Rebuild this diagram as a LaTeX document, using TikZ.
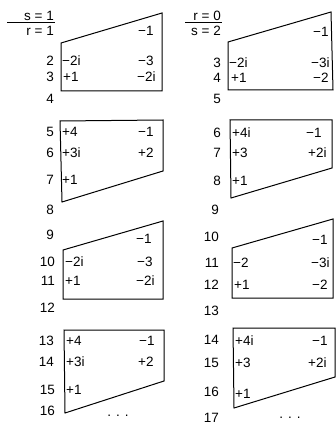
\documentclass[tikz,border=0pt]{standalone}
\usepackage{fontspec}
\setmainfont{Liberation Sans}
\usetikzlibrary{positioning}

\begin{document}
\begin{tikzpicture}[
    x=1pt, y=-1pt,
    font=\fontsize{13.5}{15}\selectfont,
    rowno/.style={anchor=east, inner sep=0pt},
    val/.style={anchor=west, inner sep=0pt},
    head/.style={anchor=east, inner sep=0pt},
    frame/.style={draw=black, line width=1pt, line join=miter},
    bar/.style={draw=black, line width=0.9pt}
  ]
  \useasboundingbox (0,0) rectangle (336,430);

  % Left column: s = 1 over r = 1
  \node[head] (sL) at (54,16) {s = 1};
  \node[head, below=5pt of sL.south east, anchor=north east] (rL) {r = 1};
  \coordinate (barLa) at (7,22);
  \coordinate (barLb) at (55,22);
  \draw[bar] (barLa) -- (barLb);

  % row numbers, left
  \node[rowno] (L2) at (54,61) {2};
  \node[rowno] (L3) at (54,77) {3};
  \node[rowno] (L4) at (54,99) {4};
  \node[rowno] (L5) at (54,132) {5};
  \node[rowno] (L6) at (54,153) {6};
  \node[rowno] (L7) at (54,180) {7};
  \node[rowno] (L8) at (54,210) {8};
  \node[rowno] (L9) at (54,235) {9};
  \node[rowno] (L10) at (55,262) {10};
  \node[rowno] (L11) at (55,281) {11};
  \node[rowno] (L12) at (55,308) {12};
  \node[rowno] (L13) at (54,341) {13};
  \node[rowno] (L14) at (54,362) {14};
  \node[rowno] (L15) at (55,390) {15};
  \node[rowno] (L16) at (55,411) {16};

  % boxes, left
  \draw[frame] (61,43) -- (162,13) -- (162,91) -- (61,91) -- cycle;
  \draw[frame] (60,121) -- (163,120) -- (163,171) -- (62,202) -- cycle;
  \draw[frame] (63,250) -- (163,221) -- (163,299) -- (63,299) -- cycle;
  \draw[frame] (64,330) -- (164,330) -- (164,381) -- (65,413) -- cycle;

  % entries, left
  \node[val] (aL1) at (138,31) {−1};
  \node[val] (bL2) at (62,61) {−2i};
  \node[val] (cL2) at (138,61) {−3};
  \node[val] (bL3) at (63,77) {+1};
  \node[val] (cL3) at (137,77) {−2i};

  \node[val] (bL5) at (62,132) {+4};
  \node[val] (cL5) at (138,132) {−1};
  \node[val] (bL6) at (62,153) {+3i};
  \node[val] (cL6) at (138,153) {+2};
  \node[val] (bL7) at (62,180) {+1};

  \node[val] (aL9) at (136,239) {−1};
  \node[val] (bL10) at (65,262) {−2i};
  \node[val] (cL10) at (137,262) {−3};
  \node[val] (bL11) at (65,281) {+1};
  \node[val] (cL11) at (136,281) {−2i};

  \node[val] (bL13) at (66,341) {+4};
  \node[val] (cL13) at (139,341) {−1};
  \node[val] (bL14) at (66,362) {+3i};
  \node[val] (cL14) at (138,362) {+2};
  \node[val] (bL15) at (66,390) {+1};

  \node (dotsL) at (118,416) {.\hspace{5pt}.\hspace{5pt}.};

  % Right column: r = 0 over s = 2
  \node[head] (rR) at (221,16) {r = 0};
  \node[head, below=5pt of rR.south east, anchor=north east] (sR) {s = 2};
  \coordinate (barRa) at (185,22);
  \coordinate (barRb) at (222,22);
  \draw[bar] (barRa) -- (barRb);

  % row numbers, right
  \node[rowno] (R3) at (221,63) {3};
  \node[rowno] (R4) at (221,78) {4};
  \node[rowno] (R5) at (221,99) {5};
  \node[rowno] (R6) at (221,133) {6};
  \node[rowno] (R7) at (221,153) {7};
  \node[rowno] (R8) at (221,181) {8};
  \node[rowno] (R9) at (219,210) {9};
  \node[rowno] (R10) at (219,237) {10};
  \node[rowno] (R11) at (219,263) {11};
  \node[rowno] (R12) at (219,285) {12};
  \node[rowno] (R13) at (219,311) {13};
  \node[rowno] (R14) at (219,340) {14};
  \node[rowno] (R15) at (219,363) {15};
  \node[rowno] (R16) at (219,392) {16};
  \node[rowno] (R17) at (219,418) {17};

  % boxes, right
  \draw[frame] (228,42) -- (331,12) -- (333,90) -- (228,90) -- cycle;
  \draw[frame] (230,120) -- (332,120) -- (332,168) -- (231,198) -- cycle;
  \draw[frame] (232,248) -- (333,219) -- (333,298) -- (232,298) -- cycle;
  \draw[frame] (233,328) -- (335,328) -- (335,377) -- (234,408) -- cycle;

  % entries, right
  \node[val] (aR2) at (313,32) {−1};
  \node[val] (bR3) at (229,63) {−2i};
  \node[val] (cR3) at (311,63) {−3i};
  \node[val] (bR4) at (231,78) {+1};
  \node[val] (cR4) at (313,78) {−2};

  \node[val] (bR6) at (232,133) {+4i};
  \node[val] (cR6) at (306,133) {−1};
  \node[val] (bR7) at (232,153) {+3};
  \node[val] (cR7) at (308,153) {+2i};
  \node[val] (bR8) at (232,181) {+1};

  \node[val] (aR10) at (312,240) {−1};
  \node[val] (bR11) at (233,263) {−2};
  \node[val] (cR11) at (311,263) {−3i};
  \node[val] (bR12) at (234,285) {+1};
  \node[val] (cR12) at (312,285) {−2};

  \node[val] (bR14) at (235,341) {+4i};
  \node[val] (cR14) at (312,341) {−1};
  \node[val] (bR15) at (235,363) {+3};
  \node[val] (cR15) at (308,363) {+2i};
  \node[val] (bR16) at (235,394) {+1};

  \node (dotsR) at (290,418) {.\hspace{5pt}.\hspace{5pt}.};
\end{tikzpicture}
\end{document}
